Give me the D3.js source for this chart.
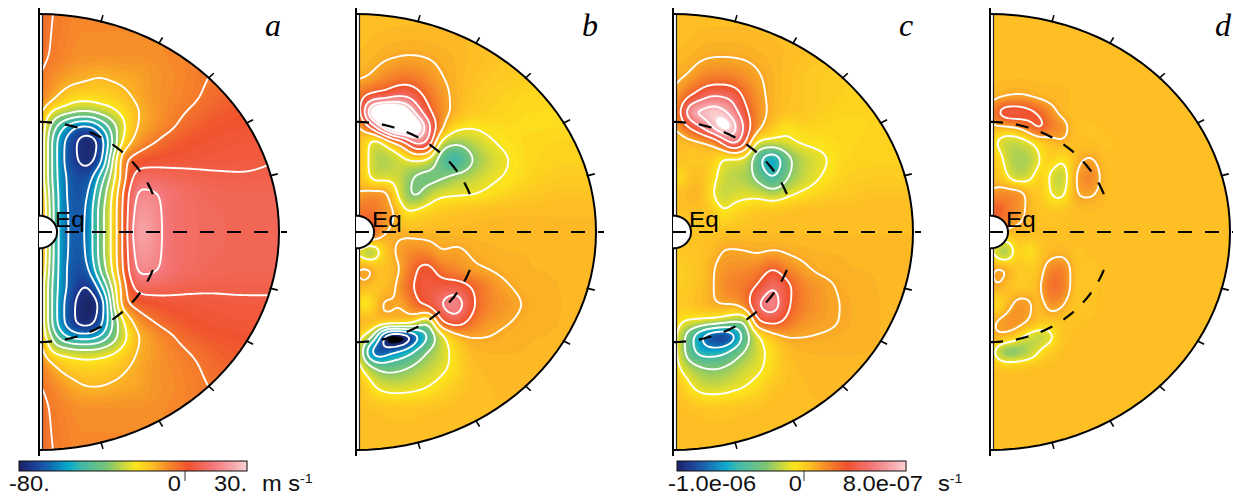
<!DOCTYPE html>
<html><head><meta charset="utf-8">
<script src="https://cdn.jsdelivr.net/npm/d3@7"></script>
<style>html,body{margin:0;padding:0;background:#fff}svg{display:block}</style>
</head><body><svg id="c" width="1233" height="498"></svg>
<script>
// node positions of the value tables (offset from the axis / from the equator, in plot units)
const radialNodes = [0,7,14,22,30,40,50,60,72,85,100,115,130,150,175,205,240];
const verticalNodes = [218,180,155,135,120,105,90,72,55,38,20,0,-20,-38,-55,-72,-90,-105,-120,-135,-155,-180,-218];
// panel a: m/s
const panelA = [
[-3,-4,-5,-6,-7,-8,-8,-8,-8,-8,-8,-8,-8,-8,-7,-6,-6],
[-3,-4,-6,-7,-8,-9,-9,-9,-9,-9,-9,-9,-8,-7,-6,-4,-3],
[-4,-7,-9,-10.5,-12,-13,-14,-15,-14,-13,-12,-10,-9,-7,-4.5,-2,-1],
[-6,-9,-13,-17,-20,-22,-22,-21,-20,-17,-13,-10,-8.5,-6.5,-3,0,1],
[-10,-20,-27,-30,-32,-35,-35,-32,-28,-22,-15,-11,-8,-4.5,-1,1,2],
[-10,-28,-40,-52,-60,-67,-68,-58,-42,-26,-14,-10,-6.5,-2,1,2,3],
[-10,-30,-48,-62,-69,-77,-79,-75,-48,-22,-10,-5.5,-1.5,1,2.5,3,3],
[-10,-30,-48,-62,-70,-76,-78,-72,-40,-7,0,2,2.5,3,3.5,4,5],
[-10,-30,-48,-61,-67,-71,-70,-54,-33,-8,10,9,8,7,6,5.5,6],
[-8,-26,-46,-60,-67,-70,-65,-46,-27,-3,17,16,12,9.5,8,7.5,7.5],
[-6,-24,-45,-60,-66,-69,-62,-42,-25,-2,20,18,12,10,8.5,8,7.5],
[-6,-24,-45,-60,-66,-68,-62,-42,-25,-2,23,19,12,10,8.5,8,7.5],
[-6,-24,-45,-60,-66,-69,-62,-42,-25,-2,20,18,12,10,8.5,8,7.5],
[-8,-26,-46,-60,-67,-71,-66,-46,-27,-3,17,16,12,9.5,8,7.5,7.5],
[-10,-30,-48,-60,-67,-74,-76,-62,-36,-8,9,8.5,7.5,6.5,6,6,6],
[-10,-30,-48,-62,-70,-78,-80,-76,-44,-8,-1,1.5,2.5,3,3.5,4,4],
[-10,-30,-48,-62,-70,-78,-79,-72,-48,-25,-10,-5,-1.5,1,2.5,3,3],
[-10,-25,-38,-50,-56,-60,-60,-55,-42,-28,-15,-10,-6.5,-2,.5,1.5,2],
[-8,-18,-26,-28,-29,-31,-31,-30,-27,-21,-14,-11,-8,-5,-1.5,.5,1.5],
[-6,-9,-13,-17,-19,-20,-21,-20,-19,-16,-13,-10,-8.5,-6.5,-3,-.5,.5],
[-4,-6,-8,-10,-12,-14,-15,-15,-14,-13,-12,-10,-9,-7,-4.5,-2,-1],
[-3,-4,-6,-7,-8,-9,-9,-9,-9,-9,-9,-9,-8,-7,-6,-4,-3],
[-3,-4,-5,-6,-7,-8,-8,-8,-8,-8,-8,-8,-8,-8,-7,-6,-6]];
// panels b, c, d: 1e-7 per s
const panelB = [
[.4,.4,.4,.4,.4,.4,.4,.4,.4,.4,.4,.4,.3,.2,.1,0,0],
[.5,.55,.6,.7,.8,.85,.9,.9,.85,.75,.65,.5,.4,.2,.1,0,0],
[.8,.9,1.05,1.4,1.7,2,2.2,2,1.6,1.05,.7,.4,.2,.05,-.1,-.3,-.3],
[1.5,3,3.5,4,4,5,5,4,2.5,1.5,.7,.3,0,-.2,-.4,-.4,-.4],
[1,4,9,11,12,11,9.5,6.5,3.5,1.6,.7,.1,-.1,-.3,-.5,-.5,-.5],
[.5,1.3,3,6,9,11,11,10,6,1.5,-.6,-.9,-.7,-.5,-.55,-.5,-.5],
[.3,.4,-1.5,-1.8,-.4,1.2,3,6,5,-1.5,-2.5,-2,-1.3,-.7,-.4,-.3,-.3],
[.3,.3,-1.6,-2.2,-2.3,-1.8,-1.2,-.8,-1.3,-4,-5.5,-3.2,-2,-1.1,-.4,-.2,-.2],
[.4,.2,-1.3,-1.8,-1.6,-1.5,-2.5,-3.2,-3.5,-3.3,-2.4,-2,-1.4,-.9,-.3,0,0],
[1,1.3,1.6,1.6,1.5,-.8,-2.6,-3.4,-2.2,-1.3,-1.2,-1.1,-.8,-.3,.1,.3,.3],
[2,2.5,2.5,2,1.5,1,-1,-.6,-.2,.1,.3,.4,.5,.5,.5,.5,.5],
[3,3.5,3.5,2,.9,.8,.7,.6,.6,.6,.6,.6,.6,.6,.6,.6,.6],
[-1,-2,-3,-1.5,.3,1.1,1.5,1.8,1.7,1,1.2,.9,.8,.7,.7,.7,.7],
[.8,1.5,1.3,.5,.4,.7,1.6,3,3.6,2.3,1.8,1.2,1,.8,.7,.7,.7],
[.3,.9,.3,.2,.5,.9,2.4,3.2,3.8,3.8,4,3,2,1.1,.75,.7,.7],
[.2,-1.2,-1,.9,1.2,1,1.2,2.8,3.5,5,6,3.5,2,1.4,.85,.7,.7],
[.5,1,.5,.7,.6,.7,.5,-.8,-3,3,4,2.5,1.5,1.08,.75,.7,.7],
[.3,-1.2,-2,-6,-11,-12,-11,-8,-5,-1.8,.3,1,1,.8,.7,.7,.7],
[.4,-3.3,-7,-9,-8,-7,-6,-4.5,-2.8,-1.8,-.4,.6,.7,.7,.7,.7,.7],
[.2,-1.3,-2.5,-3.4,-3.8,-3.6,-3.2,-2.6,-2,-1.4,-.5,.4,.6,.7,.7,.7,.7],
[.3,.3,-.5,-1.2,-1.5,-1.6,-1.5,-1.3,-1,-.5,.1,.4,.5,.6,.6,.6,.6],
[.4,.4,.4,.4,.3,.3,.3,.3,.4,.4,.5,.5,.5,.5,.5,.5,.5],
[.5,.5,.5,.5,.5,.5,.5,.5,.5,.5,.5,.5,.5,.5,.5,.5,.5]];
const panelC = [
[.4,.4,.4,.4,.4,.4,.4,.4,.4,.4,.4,.4,.3,.2,.1,0,0],
[.5,.55,.6,.7,.8,.85,.85,.85,.8,.7,.6,.5,.4,.2,.1,0,0],
[.8,.9,1.05,1.4,1.8,2,2.1,1.9,1.6,1.1,.7,.4,.2,0,-.1,-.2,-.2],
[.9,1.6,2.8,3.5,4.5,5.2,5,4.5,2.6,1.4,.7,.4,.2,0,-.2,-.3,-.3],
[.9,2.8,5.5,7.5,7.5,8,7.5,6,3.5,1.6,.7,.3,.2,-.1,-.3,-.3,-.3],
[.9,1.5,2.8,4,5.5,7.5,9,8,4.5,1.4,.2,-.8,-.3,-.4,-.4,-.3,-.3],
[.3,.4,.6,.7,.9,1.3,3.5,6,3.5,-1.3,-1.5,-1.2,-.8,-.6,-.4,-.2,-.2],
[.3,.4,.2,.1,.2,0,-1.3,-1.4,-1.6,-4.5,-6.5,-3.5,-2,-1.2,-.3,-.2,-.2],
[.3,-1.1,.3,.5,.3,-.5,-1.7,-2,-2.2,-3.5,-5.2,-3,-1.9,-.9,-.1,0,0],
[.4,.5,.6,.7,.5,-1,-1.9,-1.6,-1.4,-1.5,-2.2,-1.3,-.7,-.2,.1,.3,.3],
[.3,.3,.4,.4,.3,.2,-1,-.4,-.1,.2,.3,.4,.5,.5,.5,.5,.5],
[.2,.2,.2,.3,.3,.3,.3,.4,.4,.5,.5,.5,.5,.5,.5,.5,.5],
[.1,.2,.3,.3,.4,.5,1.1,1.1,1.05,.9,1.05,.9,.8,.7,.7,.7,.7],
[0,-.1,0,.2,.4,.9,1.5,1.6,1.7,2,3.2,1.8,1.2,.8,.7,.7,.7],
[0,-.1,.1,.3,.5,.9,1.7,2,2.3,3.2,5,3.4,1.9,1.3,.8,.7,.7],
[.1,.1,.2,.4,.6,.9,1.1,1.1,2,5,6,3.2,2,1.3,.9,.7,.7],
[.2,-.8,-1.2,-1.3,-1.5,-1.8,-2.2,-3,-3.2,3,3.5,2.4,1.5,1.2,.9,.7,.7],
[.3,-2,-3.5,-5.5,-7.5,-9,-9.5,-8,-4,-1.4,.3,1,1,.9,.8,.7,.7],
[.3,-1.8,-3.5,-5,-6,-6,-5.5,-4.2,-2.8,-1.5,-.5,.5,.7,.7,.7,.7,.7],
[.3,-1.1,-2,-2.6,-3,-3.2,-3,-2.5,-1.8,-1.3,-.4,.4,.6,.7,.7,.7,.7],
[.4,.3,-.5,-1.2,-1.6,-1.7,-1.6,-1.3,-1,-.5,.2,.4,.5,.6,.6,.6,.6],
[.4,.4,.4,.4,.3,.3,.3,.3,.4,.4,.5,.5,.5,.5,.5,.5,.5],
[.5,.5,.5,.5,.5,.5,.5,.5,.5,.5,.5,.5,.5,.5,.5,.5,.5]];
const panelD = [
[.5,.5,.5,.5,.5,.5,.5,.5,.5,.5,.5,.5,.5,.5,.5,.5,.5],
[.5,.5,.5,.5,.5,.5,.5,.5,.5,.5,.5,.5,.5,.5,.5,.5,.5],
[.5,.5,.5,.5,.5,.5,.5,.5,.5,.5,.5,.5,.5,.5,.5,.5,.5],
[.6,.7,.9,1,1.1,.9,.7,.6,.6,.5,.5,.5,.5,.5,.5,.5,.5],
[1,3,4,4.2,4,3.5,2.8,1.6,.6,.4,.5,.5,.5,.5,.5,.5,.5],
[.6,.8,.8,1,1.4,2.6,3.6,2.2,1.7,.3,.3,.4,.5,.5,.5,.5,.5],
[.1,-1.2,-1.8,-2,-1.8,-1.2,-.2,.3,.9,.4,.4,.3,.4,.5,.5,.5,.5],
[.2,.2,-1.3,-2.2,-2.4,-2.2,-1,.1,-1,.5,1.2,.4,.4,.5,.5,.5,.5],
[.3,.4,-.2,-1.8,-2,-1.5,.1,-1.2,-2.2,1,2,.5,.4,.5,.5,.5,.5],
[1.2,1.6,1.8,1.9,1.7,.4,.2,-1,-1.6,1,1.2,.5,.4,.5,.5,.5,.5],
[2.5,3.5,2.5,1.8,1.5,.5,.3,.2,.3,.4,.5,.5,.4,.5,.5,.5,.5],
[1,1.5,.8,.6,.6,.5,.4,.4,.4,.4,.5,.5,.5,.5,.5,.5,.5],
[-.5,-1.8,-3.2,-1.3,.2,-1.1,.3,.5,.7,.3,.4,.4,.4,.5,.5,.5,.5],
[.6,1.4,1.3,.5,.1,.1,.3,2,2.2,.3,.3,.4,.4,.5,.5,.5,.5],
[.6,1.1,.6,.2,0,.1,.7,2.6,2.4,.2,.3,.4,.4,.5,.5,.5,.5],
[.3,-1.1,.2,.9,1.6,1.2,.3,1.7,1.2,.1,.3,.4,.4,.5,.5,.5,.5],
[.5,1.2,1.5,1.7,1.5,.9,.3,.1,.3,.3,.4,.4,.4,.5,.5,.5,.5],
[.8,.9,.7,.3,-.8,-1.8,-2.2,-1.6,.3,.4,.5,.5,.5,.5,.5,.5,.5],
[.2,-1.8,-3.3,-3.5,-3,-2.2,-.8,.1,.4,.4,.5,.5,.5,.5,.5,.5,.5],
[.4,.3,.2,.2,.3,.4,.4,.4,.5,.5,.5,.5,.5,.5,.5,.5,.5],
[.5,.5,.5,.5,.5,.5,.5,.5,.5,.5,.5,.5,.5,.5,.5,.5,.5],
[.5,.5,.5,.5,.5,.5,.5,.5,.5,.5,.5,.5,.5,.5,.5,.5,.5],
[.5,.5,.5,.5,.5,.5,.5,.5,.5,.5,.5,.5,.5,.5,.5,.5,.5]];
const panelLetters = ["a","b","c","d"];
const levelsA = [-75,-65,-55,-45,-35,-25,-15,-5,5,15];
const levelsB = [-9,-7,-5,-3,-1,1,3,5,7];
const domainA = [-80,30], domainB = [-10,8];
const colorPositions = [0,.06,.12,.215,.27,.385,.45,.51,.58,.65,.74,.85,.95,1];
const colorValues = ["#1b2364","#1d3c94","#1460ae","#06aacb","#3fb8a8","#7cc576","#c2d645","#fde51c","#fdbf24","#f68b2a","#f0532f","#f4787a","#f7b0b4","#fbd5d6"];
const panels = [
 {data:panelA,x0:39,levels:levelsA,domain:domainA,letter:panelLetters[0],lx:265},
 {data:panelB,x0:356,levels:levelsB,domain:domainB,letter:panelLetters[1],lx:582},
 {data:panelC,x0:673,levels:levelsB,domain:domainB,letter:panelLetters[2],lx:899},
 {data:panelD,x0:990,levels:levelsB,domain:domainB,letter:panelLetters[3],lx:1215}];
const colorbars = [
 {x0:19,x1:247,labels:[{t:"-80.",x:9,a:"start"},{t:"0",x:181,a:"end"},{t:"30.",x:247,a:"end"}],tick:185,unit:"m s",ux:262},
 {x0:677,x1:906,labels:[{t:"-1.0e-06",x:668,a:"start"},{t:"0",x:802,a:"end"},{t:"8.0e-07",x:923,a:"end"}],tick:804,unit:"s",ux:938}];

const svg = d3.select("#c");
const ramp = d3.scaleLinear().domain(colorPositions).range(colorValues).interpolate(d3.interpolateRgb).clamp(true);
const colorOf = t => t>1.005 ? "#ffffff" : t<-0.005 ? "#000000" : ramp(t);
const Y = d3.scaleLinear().domain([218,-218]).range([14,450]);

function monoTangents(xs,ys){
  const n=xs.length,d=[],m=new Array(n);
  for(let i=0;i<n-1;i++)d.push((ys[i+1]-ys[i])/(xs[i+1]-xs[i]));
  m[0]=d[0];m[n-1]=d[n-2];
  for(let i=1;i<n-1;i++){m[i]=d[i-1]*d[i]<=0?0:2*d[i-1]*d[i]/(d[i-1]+d[i]);}
  return m;
}
function resample(xs,ys,qs){
  const asc=xs[1]>xs[0];
  const X=asc?xs:xs.slice().reverse(),V=asc?ys:ys.slice().reverse();
  const m=monoTangents(X,V);const bis=d3.bisector(d=>d).right;
  return qs.map(q=>{
    let i=Math.min(Math.max(bis(X,q)-1,0),X.length-2);
    const h=X[i+1]-X[i],s=(q-X[i])/h,s2=s*s,s3=s2*s;
    return (2*s3-3*s2+1)*V[i]+(s3-2*s2+s)*h*m[i]+(-2*s3+3*s2)*V[i+1]+(s3-s2)*h*m[i+1];
  });
}
const step=2,nx=Math.floor(240/step)+1,ny=Math.floor(436/step)+1;
const fineX=d3.range(nx).map(i=>i*step),fineY=d3.range(ny).map(j=>218-j*step);

let uid=0;
panels.forEach(p=>{
  const X=d3.scaleLinear().domain([0,240]).range([p.x0,p.x0+240]);
  const tOf=d3.scaleLinear().domain(p.domain).range([0,1]);
  const rows=p.data.map(r=>resample(radialNodes,r,fineX));
  const field=new Float64Array(nx*ny);
  for(let i=0;i<nx;i++){
    const col=resample(verticalNodes,rows.map(r=>r[i]),fineY);
    for(let j=0;j<ny;j++)field[j*nx+i]=col[j];
  }
  if(d3.blur2){d3.blur2({data:field,width:nx},1.6);}
  const proj=d3.geoPath(d3.geoTransform({point(x,y){this.stream.point(X((x-.5)*step),Y(218-(y-.5)*step));}}));
  const ell=(frac,a)=>[X(240*frac*Math.sin(a)),Y(218*frac*Math.cos(a))];
  const arcPts=(frac,a0,a1)=>d3.range(0,61).map(i=>ell(frac,a0+(a1-a0)*i/60));
  const line=d3.line();
  const id="clip"+(uid++);
  svg.append("clipPath").attr("id",id).append("path")
    .attr("d",line([[X(4),Y(218*Math.cos(Math.asin(4/240)))],...arcPts(1,Math.asin(4/240),Math.PI-Math.asin(4/240))])+"Z");
  const g=svg.append("g").attr("clip-path",`url(#${id})`);
  const lo=tOf.invert(-0.02),hi=tOf.invert(1.02);
  const n=110;
  const ths=d3.range(n).map(i=>lo+(hi-lo)*i/n);
  const dth=(hi-lo)/n;
  g.append("rect").attr("x",X(0)).attr("y",Y(218)).attr("width",240).attr("height",436).attr("fill",colorOf(tOf(lo)));
  const fc=d3.contours().size([nx,ny]).thresholds(ths)(Array.from(field));
  g.selectAll("path.f").data(fc).join("path").attr("class","f").attr("d",proj)
    .attr("fill",d=>colorOf(tOf(d.value+dth/2))).attr("stroke",d=>colorOf(tOf(d.value+dth/2))).attr("stroke-width",.4);
  const lc=d3.contours().size([nx,ny]).thresholds(p.levels)(Array.from(field));
  g.selectAll("path.l").data(lc).join("path").attr("class","l").attr("d",proj)
    .attr("fill","none").attr("stroke","#fff").attr("stroke-width",1.9).attr("stroke-linejoin","round");
  // axis stem and second rail
  const o=svg.append("g");
  o.append("line").attr("x1",X(0)).attr("x2",X(0)).attr("y1",8).attr("y2",456).attr("stroke","#000").attr("stroke-width",2);
  o.append("line").attr("x1",X(3.5)).attr("x2",X(3.5)).attr("y1",Y(218)).attr("y2",Y(17)).attr("stroke","#222").attr("stroke-width",1.2);
  o.append("line").attr("x1",X(3.5)).attr("x2",X(3.5)).attr("y1",Y(-17)).attr("y2",Y(-218)).attr("stroke","#222").attr("stroke-width",1.2);
  // hole
  o.append("path").attr("d",line(arcPts(.075,0,Math.PI))).attr("fill","#fff").attr("stroke","#000").attr("stroke-width",2);
  // outer arc
  o.append("path").attr("d",line(arcPts(1,0,Math.PI))).attr("fill","none").attr("stroke","#000").attr("stroke-width",2);
  // ticks
  d3.range(15,180,15).filter(a=>a!==90).forEach(a=>{
    const r=a*Math.PI/180;
    o.append("path").attr("d",line([ell(.995,r),ell(1.03,r)])).attr("stroke","#000").attr("stroke-width",1.6).attr("fill","none");
  });
  // tachocline
  const t1=73*Math.PI/180;
  o.append("path").attr("d",line(arcPts(.505,0,t1))).attr("fill","none").attr("stroke","#000").attr("stroke-width",2.2).attr("stroke-dasharray","13,13");
  o.append("path").attr("d",line(arcPts(.505,Math.PI,Math.PI-t1))).attr("fill","none").attr("stroke","#000").attr("stroke-width",2.2).attr("stroke-dasharray","13,13");
  // equator
  o.append("line").attr("x1",X(-1)).attr("x2",X(248)).attr("y1",Y(0)).attr("y2",Y(0)).attr("stroke","#000").attr("stroke-width",2).attr("stroke-dasharray","14,13");
  o.append("text").text("Eq").attr("transform",`translate(${X(16)},227) scale(1.1,1)`).attr("font-family","Liberation Sans").attr("font-size",22).attr("fill","#000");
  o.append("text").text(p.letter).attr("x",p.lx).attr("y",36).attr("font-family","Liberation Serif").attr("font-style","italic").attr("font-size",32).attr("fill","#000");
});

colorbars.forEach(b=>{
  const g=svg.append("g");
  const s=d3.scaleLinear().domain([0,1]).range([b.x0,b.x1]);
  g.selectAll("rect.c").data(d3.range(0,1,1/228)).join("rect").attr("class","c")
   .attr("x",d=>s(d)).attr("y",461).attr("width",1.6).attr("height",10).attr("fill",d=>ramp(d));
  g.append("rect").attr("x",b.x0).attr("y",461).attr("width",b.x1-b.x0).attr("height",10).attr("fill","none").attr("stroke","#111").attr("stroke-width",1);
  g.append("line").attr("x1",b.tick).attr("x2",b.tick).attr("y1",471).attr("y2",481).attr("stroke","#000").attr("stroke-width",.8);
  b.labels.forEach(l=>g.append("text").text(l.t).attr("transform",`translate(${l.x},491) scale(1.1,1)`).attr("text-anchor",l.a==="end"?"end":"start")
    .attr("font-family","Liberation Sans").attr("font-size",21.5).attr("fill","#111"));
  const u=g.append("text").text(b.unit).attr("transform",`translate(${b.ux},491) scale(1.1,1)`).attr("font-family","Liberation Sans").attr("font-size",21.5).attr("fill","#111");
  const ul=u.node().getComputedTextLength()*1.1;
  g.append("text").text("-1").attr("transform",`translate(${b.ux+ul},483) scale(1.1,1)`).attr("font-family","Liberation Sans").attr("font-size",13).attr("fill","#111");
});
</script></body></html>
